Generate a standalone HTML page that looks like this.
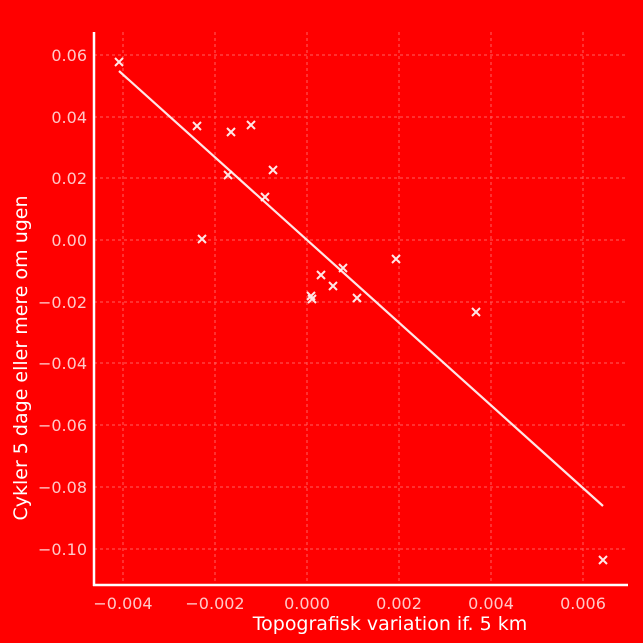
<!DOCTYPE html>
<html><head><style>body{margin:0;background:#f00}svg{display:block}</style></head><body>
<svg width="643" height="643" xmlns="http://www.w3.org/2000/svg" font-family="DejaVu Sans, Liberation Sans, sans-serif">
<rect width="643" height="643" fill="#ff0000"/>
<g stroke="#ff6060" stroke-dasharray="3,3" stroke-width="1">
<line x1="123" y1="32" x2="123" y2="585"/><line x1="215" y1="32" x2="215" y2="585"/><line x1="307" y1="32" x2="307" y2="585"/><line x1="399" y1="32" x2="399" y2="585"/><line x1="491" y1="32" x2="491" y2="585"/><line x1="583" y1="32" x2="583" y2="585"/>
<line x1="94" y1="55" x2="628" y2="55"/><line x1="94" y1="117" x2="628" y2="117"/><line x1="94" y1="178" x2="628" y2="178"/><line x1="94" y1="240" x2="628" y2="240"/><line x1="94" y1="302" x2="628" y2="302"/><line x1="94" y1="363" x2="628" y2="363"/><line x1="94" y1="425" x2="628" y2="425"/><line x1="94" y1="487" x2="628" y2="487"/><line x1="94" y1="549" x2="628" y2="549"/>
</g>
<g stroke="#fff" stroke-width="2.5" fill="none">
<line x1="94" y1="32" x2="94" y2="586"/><line x1="93" y1="585" x2="628" y2="585"/>
</g>
<line x1="119" y1="71" x2="603" y2="506" stroke="#fff" stroke-width="2.2" opacity="0.9"/>
<g stroke="#fff" stroke-width="2" opacity="0.9">
<path d="M115 58l8 8M123 58l-8 8"/>
<path d="M193 122l8 8M201 122l-8 8"/>
<path d="M227 128l8 8M235 128l-8 8"/>
<path d="M247 121l8 8M255 121l-8 8"/>
<path d="M224 171l8 8M232 171l-8 8"/>
<path d="M269 166l8 8M277 166l-8 8"/>
<path d="M261 193l8 8M269 193l-8 8"/>
<path d="M198 235l8 8M206 235l-8 8"/>
<path d="M307 292l8 8M315 292l-8 8"/>
<path d="M308 295l8 8M316 295l-8 8"/>
<path d="M317 271l8 8M325 271l-8 8"/>
<path d="M329 282l8 8M337 282l-8 8"/>
<path d="M339 264l8 8M347 264l-8 8"/>
<path d="M353 294l8 8M361 294l-8 8"/>
<path d="M392 255l8 8M400 255l-8 8"/>
<path d="M472 308l8 8M480 308l-8 8"/>
<path d="M599 556l8 8M607 556l-8 8"/>
</g>
<g fill="#ffc8c8" font-size="16" text-anchor="middle">
<text x="123" y="609">−0.004</text><text x="215" y="609">−0.002</text><text x="307" y="609">0.000</text><text x="399" y="609">0.002</text><text x="491" y="609">0.004</text><text x="583" y="609">0.006</text>
</g>
<g fill="#ffc8c8" font-size="16" text-anchor="end">
<text x="87" y="61">0.06</text><text x="87" y="123">0.04</text><text x="87" y="184">0.02</text><text x="87" y="246">0.00</text><text x="87" y="308">−0.02</text><text x="87" y="369">−0.04</text><text x="87" y="431">−0.06</text><text x="87" y="493">−0.08</text><text x="87" y="555">−0.10</text>
</g>
<text x="390" y="630" fill="#fff" font-size="19" text-anchor="middle">Topografisk variation if. 5 km</text>
<text transform="translate(27,358) rotate(-90)" fill="#fff" font-size="19" text-anchor="middle">Cykler 5 dage eller mere om ugen</text>
</svg>
</body></html>
